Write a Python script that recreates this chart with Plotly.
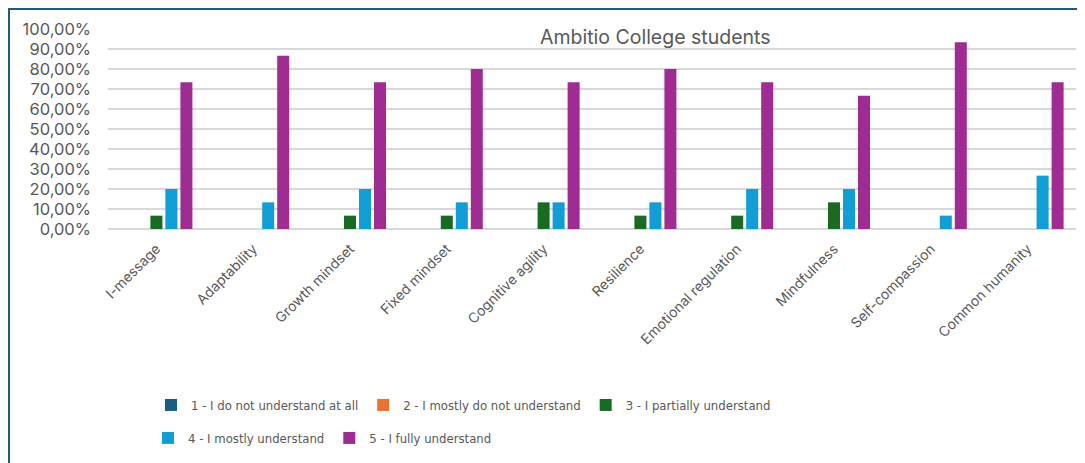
import plotly.graph_objects as go

categories = ["I-message", "Adaptability", "Growth mindset", "Fixed mindset", "Cognitive agility",
              "Resilience", "Emotional regulation", "Mindfulness", "Self-compassion", "Common humanity"]
series_names = ["1 - I do not understand at all", "2 - I mostly do not understand",
                "3 - I partially understand", "4 - I mostly understand", "5 - I fully understand"]
s1 = [0, 0, 0, 0, 0, 0, 0, 0, 0, 0]
s2 = [0, 0, 0, 0, 0, 0, 0, 0, 0, 0]
s3 = [0.0667, 0, 0.0667, 0.0667, 0.1333, 0.0667, 0.0667, 0.1333, 0, 0]
s4 = [0.2, 0.1333, 0.2, 0.1333, 0.1333, 0.1333, 0.2, 0.2, 0.0667, 0.2667]
s5 = [0.7333, 0.8667, 0.7333, 0.8, 0.7333, 0.8, 0.7333, 0.6667, 0.9333, 0.7333]
colors = ["#156082", "#E97132", "#196B24", "#0F9ED5", "#A02B93"]
y_ticks = [0, 0.1, 0.2, 0.3, 0.4, 0.5, 0.6, 0.7, 0.8, 0.9, 1.0]

# page is rendered with the default 8px body margin -> figure is offset by 8px
OFF = 8
PAGE_W, PAGE_H = 1085, 463
W, H = PAGE_W - OFF, PAGE_H - OFF
# plot area in page pixels: x 108..1076, y 29..229
pl, pr, pt, pb = 108, 1076, 29, 229
ml, mt = pl - OFF, pt - OFF
mr = W - (pr - OFF)
mb = H - (pb - OFF)
pw = W - ml - mr
ph = H - mt - mb


def px_x(x):  # page x -> paper
    return (x - OFF - ml) / pw


def px_y(y):  # page y -> paper
    return (H - mb - (y - OFF)) / ph


fig = go.Figure()
for i, (name, vals) in enumerate(zip(series_names, [s1, s2, s3, s4, s5])):
    fig.add_trace(go.Bar(
        x=categories, y=vals, name=name,
        marker=dict(color=colors[i], line=dict(width=0)),
        legend="legend" if i < 3 else "legend2",
    ))

base_font = "Inter, Noto Sans, sans-serif"
narrow = "Liberation Sans Narrow, DejaVu Sans Condensed, Roboto, sans-serif"
fig.update_layout(
    width=W, height=H,
    margin=dict(l=ml, r=mr, t=mt, b=mb, autoexpand=False),
    paper_bgcolor="white", plot_bgcolor="white",
    separators=",.",
    barmode="group", bargap=0.225, bargroupgap=0.2,
    font=dict(family=base_font, color="#595959"),
    xaxis=dict(tickangle=-45, tickfont=dict(size=14, color="#595959"), showgrid=False,
               showline=False, ticks="", automargin=False, ticklabelstandoff=8),
    yaxis=dict(range=[0, 1], tickvals=y_ticks, tickformat=".2%", showgrid=True,
               gridcolor="#D9D9D9", gridwidth=1.5, zeroline=True, zerolinecolor="#D9D9D9",
               zerolinewidth=1.5, tickfont=dict(size=16.5, color="#595959"), ticks="",
               automargin=False, ticklabelstandoff=16),
    legend=dict(orientation="h", x=px_x(151), xanchor="left",
                yref="container", y=1 - (405 - OFF) / H, yanchor="middle",
                font=dict(size=13, family=narrow, color="#595959"),
                itemwidth=30, traceorder="normal"),
    legend2=dict(orientation="h", x=px_x(148), xanchor="left",
                 yref="container", y=1 - (438 - OFF) / H, yanchor="middle",
                 font=dict(size=13, family=narrow, color="#595959"),
                 itemwidth=30, traceorder="normal"),
    showlegend=True,
)

# white title box that hides the gridlines behind the title
fig.add_shape(type="rect", xref="paper", yref="paper", x0=px_x(518), x1=px_x(850),
              y0=px_y(58), y1=px_y(20), fillcolor="white", line=dict(width=0), layer="between")
fig.add_annotation(
    text="Ambitio College students", xref="paper", yref="paper",
    x=px_x(655), y=px_y(37), showarrow=False,
    font=dict(size=19.5, color="#595959", family=base_font),
    xanchor="center", yanchor="middle",
)

# partial chart frame (left and top edge)
fig.add_shape(type="line", xref="paper", yref="paper", x0=px_x(9), x1=px_x(9),
              y0=px_y(PAGE_H + 10), y1=px_y(8), line=dict(color="#1F5C7A", width=2))
fig.add_shape(type="line", xref="paper", yref="paper", x0=px_x(8), x1=px_x(PAGE_W + 10),
              y0=px_y(9), y1=px_y(9), line=dict(color="#1F5C7A", width=2))

fig.write_html("out.html", config={"displayModeBar": False})
